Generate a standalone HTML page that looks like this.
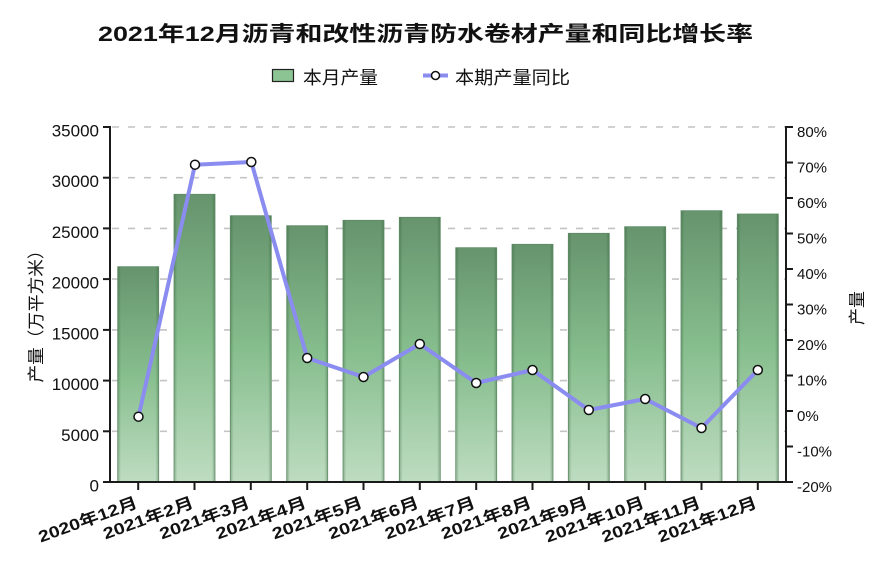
<!DOCTYPE html>
<html>
<head>
<meta charset="utf-8">
<style>
html,body{margin:0;padding:0;background:#fff;}
svg{display:block;}
text{font-family:"Liberation Sans","Noto Sans CJK SC",sans-serif;fill:#111;}
</style>
</head>
<body>
<svg width="882" height="562" viewBox="0 0 882 562" xmlns="http://www.w3.org/2000/svg">
<defs>
<linearGradient id="gv" x1="0" y1="0" x2="0" y2="1">
<stop offset="0" stop-color="#6a9871"/>
<stop offset="0.5" stop-color="#8cc493"/>
<stop offset="1" stop-color="#c6e4c9"/>
</linearGradient>
<linearGradient id="gh" x1="0" y1="0" x2="1" y2="0">
<stop offset="0" stop-color="#1f4a25" stop-opacity="0.35"/>
<stop offset="0.08" stop-color="#1f4a25" stop-opacity="0.05"/>
<stop offset="0.92" stop-color="#1f4a25" stop-opacity="0.05"/>
<stop offset="1" stop-color="#1f4a25" stop-opacity="0.35"/>
</linearGradient>
</defs>

<!-- Title -->
<text x="98" y="41" font-size="21" font-weight="bold" textLength="655" lengthAdjust="spacingAndGlyphs">2021年12月沥青和改性沥青防水卷材产量和同比增长率</text>

<!-- Legend -->
<rect x="272.5" y="69.5" width="21" height="12" fill="#8cc493" stroke="#222" stroke-width="1.2"/>
<text x="303" y="84" font-size="18" textLength="75" lengthAdjust="spacingAndGlyphs">本月产量</text>
<line x1="423" y1="75.5" x2="448" y2="75.5" stroke="#8a8cf0" stroke-width="4"/>
<circle cx="435.5" cy="75.5" r="4" fill="#fff" stroke="#111" stroke-width="1.5"/>
<text x="455" y="84" font-size="18" textLength="115" lengthAdjust="spacingAndGlyphs">本期产量同比</text>

<!-- Gridlines -->
<g stroke="#c4c4c4" stroke-width="1.6" stroke-dasharray="7,9">
<line x1="112" y1="127" x2="786" y2="127"/>
<line x1="112" y1="177.7" x2="786" y2="177.7"/>
<line x1="112" y1="228.4" x2="786" y2="228.4"/>
<line x1="112" y1="279.1" x2="786" y2="279.1"/>
<line x1="112" y1="329.9" x2="786" y2="329.9"/>
<line x1="112" y1="380.6" x2="786" y2="380.6"/>
<line x1="112" y1="431.3" x2="786" y2="431.3"/>
</g>

<!-- Bars -->
<g>
<rect x="117.7" y="266.7" width="41" height="215.3" fill="url(#gv)"/>
<rect x="174" y="194.3" width="41" height="287.7" fill="url(#gv)"/>
<rect x="230.3" y="215.7" width="41" height="266.3" fill="url(#gv)"/>
<rect x="286.7" y="225.7" width="41" height="256.3" fill="url(#gv)"/>
<rect x="343" y="220.3" width="41" height="261.7" fill="url(#gv)"/>
<rect x="399.3" y="217.3" width="41" height="264.7" fill="url(#gv)"/>
<rect x="455.7" y="247.7" width="41" height="234.3" fill="url(#gv)"/>
<rect x="512" y="244.3" width="41" height="237.7" fill="url(#gv)"/>
<rect x="568.3" y="233.3" width="41" height="248.7" fill="url(#gv)"/>
<rect x="624.7" y="226.7" width="41" height="255.3" fill="url(#gv)"/>
<rect x="681" y="210.7" width="41" height="271.3" fill="url(#gv)"/>
<rect x="737.3" y="214" width="41" height="268" fill="url(#gv)"/>
</g>
<g stroke="#5f8c66" stroke-width="0.8" fill="url(#gh)">
<rect x="117.7" y="266.7" width="41" height="215.3"/>
<rect x="174" y="194.3" width="41" height="287.7"/>
<rect x="230.3" y="215.7" width="41" height="266.3"/>
<rect x="286.7" y="225.7" width="41" height="256.3"/>
<rect x="343" y="220.3" width="41" height="261.7"/>
<rect x="399.3" y="217.3" width="41" height="264.7"/>
<rect x="455.7" y="247.7" width="41" height="234.3"/>
<rect x="512" y="244.3" width="41" height="237.7"/>
<rect x="568.3" y="233.3" width="41" height="248.7"/>
<rect x="624.7" y="226.7" width="41" height="255.3"/>
<rect x="681" y="210.7" width="41" height="271.3"/>
<rect x="737.3" y="214" width="41" height="268"/>
</g>

<!-- Axes -->
<g stroke="#1a1a1a" stroke-width="2">
<line x1="110" y1="126" x2="110" y2="483"/>
<line x1="786" y1="126" x2="786" y2="483"/>
<line x1="103" y1="482" x2="793" y2="482"/>
<!-- left ticks -->
<line x1="103" y1="127" x2="110" y2="127"/>
<line x1="103" y1="177.7" x2="110" y2="177.7"/>
<line x1="103" y1="228.4" x2="110" y2="228.4"/>
<line x1="103" y1="279.1" x2="110" y2="279.1"/>
<line x1="103" y1="329.9" x2="110" y2="329.9"/>
<line x1="103" y1="380.6" x2="110" y2="380.6"/>
<line x1="103" y1="431.3" x2="110" y2="431.3"/>
<!-- right ticks -->
<line x1="786" y1="127" x2="793" y2="127"/>
<line x1="786" y1="162.5" x2="793" y2="162.5"/>
<line x1="786" y1="198" x2="793" y2="198"/>
<line x1="786" y1="233.5" x2="793" y2="233.5"/>
<line x1="786" y1="269" x2="793" y2="269"/>
<line x1="786" y1="304.5" x2="793" y2="304.5"/>
<line x1="786" y1="340" x2="793" y2="340"/>
<line x1="786" y1="375.5" x2="793" y2="375.5"/>
<line x1="786" y1="411" x2="793" y2="411"/>
<line x1="786" y1="446.5" x2="793" y2="446.5"/>
<!-- x ticks -->
<line x1="138.2" y1="482" x2="138.2" y2="490"/>
<line x1="194.5" y1="482" x2="194.5" y2="490"/>
<line x1="250.8" y1="482" x2="250.8" y2="490"/>
<line x1="307.2" y1="482" x2="307.2" y2="490"/>
<line x1="363.5" y1="482" x2="363.5" y2="490"/>
<line x1="419.8" y1="482" x2="419.8" y2="490"/>
<line x1="476.2" y1="482" x2="476.2" y2="490"/>
<line x1="532.5" y1="482" x2="532.5" y2="490"/>
<line x1="588.8" y1="482" x2="588.8" y2="490"/>
<line x1="645.2" y1="482" x2="645.2" y2="490"/>
<line x1="701.5" y1="482" x2="701.5" y2="490"/>
<line x1="757.8" y1="482" x2="757.8" y2="490"/>
</g>

<!-- Left tick labels -->
<g font-size="17" text-anchor="end">
<text x="99" y="136.5">35000</text>
<text x="99" y="187.2">30000</text>
<text x="99" y="237.9">25000</text>
<text x="99" y="288.6">20000</text>
<text x="99" y="339.4">15000</text>
<text x="99" y="390.1">10000</text>
<text x="99" y="440.8">5000</text>
<text x="99" y="491.5">0</text>
</g>

<!-- Right tick labels -->
<g font-size="15">
<text x="797" y="137">80%</text>
<text x="797" y="172.5">70%</text>
<text x="797" y="208">60%</text>
<text x="797" y="243.5">50%</text>
<text x="797" y="279">40%</text>
<text x="797" y="314.5">30%</text>
<text x="797" y="350">20%</text>
<text x="797" y="385.5">10%</text>
<text x="797" y="421">0%</text>
<text x="797" y="456.5">-10%</text>
<text x="797" y="492">-20%</text>
</g>

<!-- Axis titles -->
<text x="0" y="0" font-size="17" text-anchor="middle" transform="translate(42,312) rotate(-90)" textLength="141" lengthAdjust="spacingAndGlyphs">产量（万平方米）</text>
<text x="0" y="0" font-size="17" text-anchor="middle" transform="translate(863,308) rotate(-90)">产量</text>

<!-- X labels -->
<g font-size="16" font-weight="bold" text-anchor="end">
<text transform="translate(138.5,507) rotate(-20)" textLength="104" lengthAdjust="spacingAndGlyphs">2020年12月</text>
<text transform="translate(194.8,507) rotate(-20)" textLength="95" lengthAdjust="spacingAndGlyphs">2021年2月</text>
<text transform="translate(251.1,507) rotate(-20)" textLength="95" lengthAdjust="spacingAndGlyphs">2021年3月</text>
<text transform="translate(307.5,507) rotate(-20)" textLength="95" lengthAdjust="spacingAndGlyphs">2021年4月</text>
<text transform="translate(363.8,507) rotate(-20)" textLength="95" lengthAdjust="spacingAndGlyphs">2021年5月</text>
<text transform="translate(420.1,507) rotate(-20)" textLength="95" lengthAdjust="spacingAndGlyphs">2021年6月</text>
<text transform="translate(476.5,507) rotate(-20)" textLength="95" lengthAdjust="spacingAndGlyphs">2021年7月</text>
<text transform="translate(532.8,507) rotate(-20)" textLength="95" lengthAdjust="spacingAndGlyphs">2021年8月</text>
<text transform="translate(589.1,507) rotate(-20)" textLength="95" lengthAdjust="spacingAndGlyphs">2021年9月</text>
<text transform="translate(645.5,507) rotate(-20)" textLength="104" lengthAdjust="spacingAndGlyphs">2021年10月</text>
<text transform="translate(701.8,507) rotate(-20)" textLength="104" lengthAdjust="spacingAndGlyphs">2021年11月</text>
<text transform="translate(758.1,507) rotate(-20)" textLength="104" lengthAdjust="spacingAndGlyphs">2021年12月</text>
</g>

<!-- Line series -->
<polyline fill="none" stroke="#8a8cf0" stroke-width="4" stroke-linejoin="round"
points="138.5,416.7 195,164.7 251.3,162 307.2,358 363.5,377 419.8,344 476.2,383 532.5,370 588.8,410 645.2,399 701.5,428 757.8,370"/>
<g fill="#fff" stroke="#111" stroke-width="1.5">
<circle cx="138.5" cy="416.7" r="4.5"/>
<circle cx="195" cy="164.7" r="4.5"/>
<circle cx="251.3" cy="162" r="4.5"/>
<circle cx="307.2" cy="358" r="4.5"/>
<circle cx="363.5" cy="377" r="4.5"/>
<circle cx="419.8" cy="344" r="4.5"/>
<circle cx="476.2" cy="383" r="4.5"/>
<circle cx="532.5" cy="370" r="4.5"/>
<circle cx="588.8" cy="410" r="4.5"/>
<circle cx="645.2" cy="399" r="4.5"/>
<circle cx="701.5" cy="428" r="4.5"/>
<circle cx="757.8" cy="370" r="4.5"/>
</g>
</svg>
</body>
</html>
